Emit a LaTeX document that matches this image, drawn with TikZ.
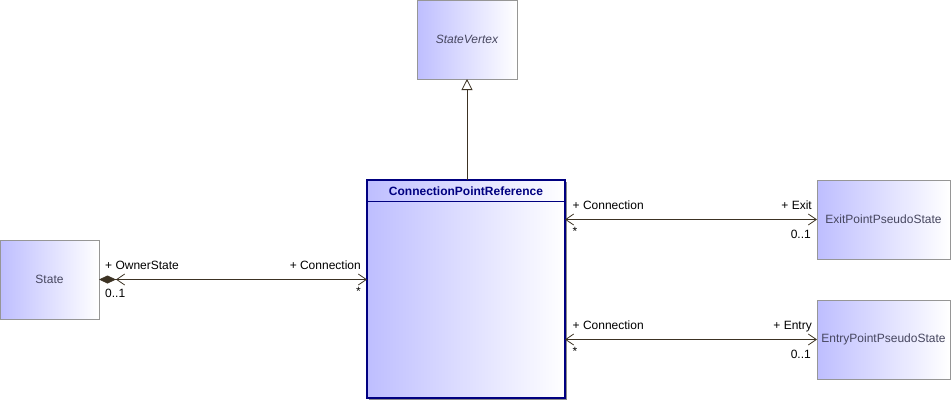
\documentclass[tikz,border=0pt]{standalone}
\usepackage{fontspec}
\setmainfont{Liberation Sans}
\usetikzlibrary{arrows.meta,shadows}
\definecolor{clsfill}{RGB}{190,190,255}
\definecolor{clsborder}{RGB}{150,150,150}
\definecolor{clstext}{RGB}{70,70,95}
\definecolor{navyb}{RGB}{0,0,128}
\definecolor{lnc}{RGB}{60,50,35}
\begin{document}
\begin{tikzpicture}[x=1pt,y=-1pt,
  every node/.style={font=\fontsize{12}{14}\selectfont},
  cls/.style={draw=clsborder, line width=1pt, left color=clsfill, right color=white,
    text=clstext, inner sep=0pt, outer sep=0pt},
  role/.style={inner sep=0pt, text=black},
  assoc/.style={draw=lnc, line width=0.8pt},
  barbs/.style={{Straight Barb[length=8pt,width=11pt,line width=0.8pt]}-{Straight Barb[length=8pt,width=11pt,line width=0.8pt]}},
  compo/.style={{Diamond[length=17pt,width=8pt,fill=lnc]Straight Barb[length=8pt,width=11pt,line width=0.8pt]}-{Straight Barb[length=8pt,width=11pt,line width=0.8pt]}},
  gen/.style={-{Triangle[open,length=11pt,width=11pt,line width=0.8pt,fill=white]}}
]
\useasboundingbox (0,0) rectangle (951,400);

\node[cls, minimum width=100pt, minimum height=79pt] (sv) at (467,39.5) {\itshape StateVertex};
\node[cls, minimum width=99pt, minimum height=79pt] (state) at (49.5,279.5) {State};
\node[cls, minimum width=133pt, minimum height=79pt] (exit) at (883.5,219.5) {ExitPointPseudoState};
\node[cls, minimum width=133pt, minimum height=79pt] (entry) at (883.5,339.5) {EntryPointPseudoState};

\node[draw=navyb, line width=1.5pt, left color=clsfill, right color=white,
  drop shadow={shadow xshift=2pt, shadow yshift=-2pt, fill=black!45, opacity=1},
  minimum width=198pt, minimum height=218pt, inner sep=0pt, outer sep=0pt,
  path picture={\draw[navyb, line width=1pt]
    ([yshift=-21.5pt]path picture bounding box.north west) --
    ([yshift=-21.5pt]path picture bounding box.north east);}]
  (cpr) at (466,289) {};
\node[anchor=base, inner sep=0pt, text=navyb, font=\fontsize{12}{14}\selectfont\bfseries]
  (cprt) at (466,195) {ConnectionPointReference};

% generalization
\draw[assoc, gen] (cpr.north -| sv.south) -- (sv.south);

% State association
\draw[assoc, compo] (state.east) -- (state.east -| cpr.west);
\node[role, anchor=base west] (osr) at (105,269) {+ OwnerState};
\node[role, anchor=base west] (osm) at (105,297.5) {0..1};
\node[role, anchor=base east] (scr) at (361,269) {+ Connection};
\node[role, anchor=north east] (scm) at (361,287) {*};

% Exit association
\draw[assoc, barbs] (exit.west -| cpr.east) -- (exit.west);
\node[role, anchor=base west] (ecr) at (572.5,209) {+ Connection};
\node[role, anchor=north west] (ecm) at (572.5,227) {*};
\node[role, anchor=base east] (exr) at (812,209) {+ Exit};
\node[role, anchor=base east] (exm) at (811,238) {0..1};

% Entry association
\draw[assoc, barbs] (entry.west -| cpr.east) -- (entry.west);
\node[role, anchor=base west] (ncr) at (572.5,329) {+ Connection};
\node[role, anchor=north west] (ncm) at (572.5,347) {*};
\node[role, anchor=base east] (enr) at (812,329) {+ Entry};
\node[role, anchor=base east] (enm) at (811,358) {0..1};
\end{tikzpicture}
\end{document}
